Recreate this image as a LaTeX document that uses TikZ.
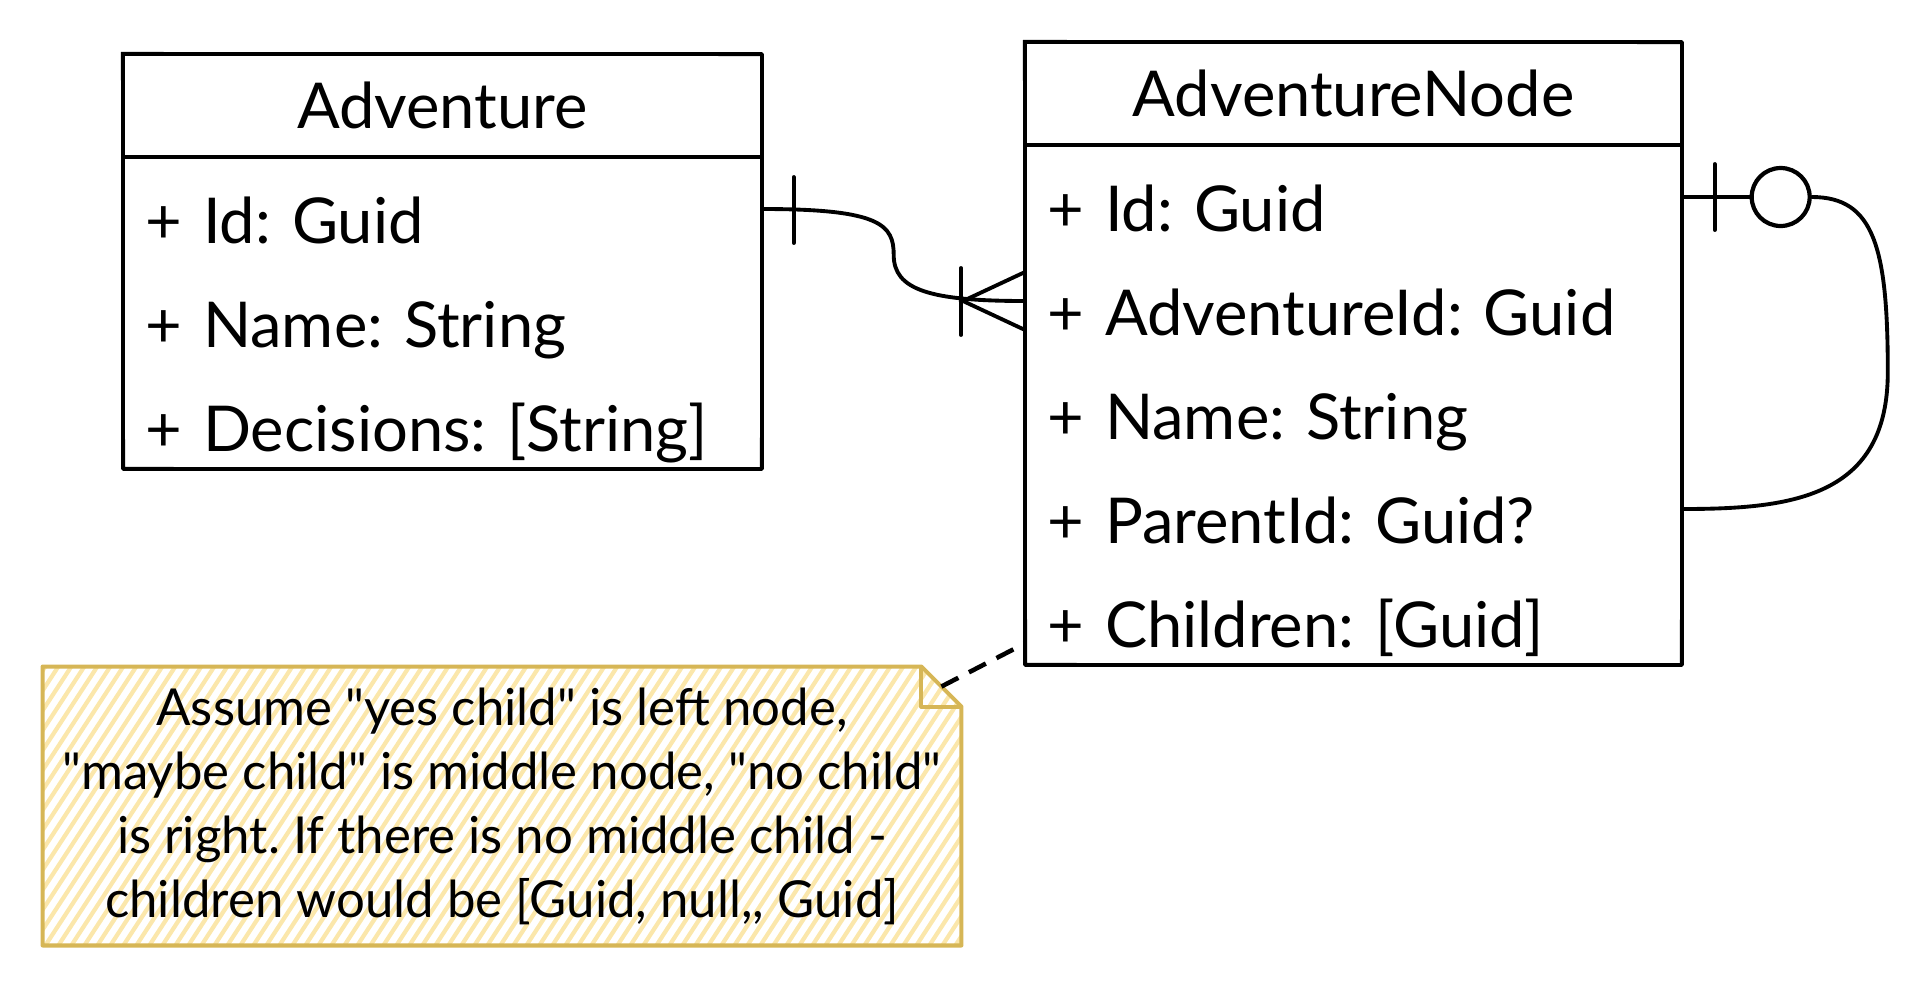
\documentclass[tikz,border=0pt]{standalone}
\usepackage{fontspec}
\setmainfont{Lato}
\usepackage{xcolor}
\definecolor{notefill}{HTML}{FBE7AB}
\definecolor{noteline}{HTML}{D6B656}
\newcommand\qq{\textquotedbl}
\newcommand\ERbox[7]{
  \def\En{#1} \def\Xa{#2} \def\Ya{#3} \def\Xb{#4} \def\Nr{#5}
  \pgfmathsetmacro{\Yh}{\Ya+103}
  \pgfmathsetmacro{\Yb}{\Yh+104*\Nr}
  \pgfmathsetmacro{\Tw}{0.02*(\Xb-\Xa)-0.88}
  \draw[box line] (\Xa,\Ya) rectangle (\Xb,\Yb);
  \draw[box line,line width=0.8pt] (\Xa-1.5,\Ya-1.5) -- (\Xb+1,\Ya+1.5)
    -- (\Xb-1.5,\Yb+1) -- (\Xa+1.5,\Yb-1.5) -- cycle;
  \draw[box line] (\Xa,\Yh) -- (\Xb,\Yh);
  \node[box title] (\En) at ({(\Xa+\Xb)/2},{(\Ya+\Yh)/2}) {#6};
  \foreach \txt [count=\i] in {#7}
  {
    \node[box row=\Tw cm] (\En-\i) at (\Xa,{\Yh+52+104*(\i-1)}) {\txt};
  }
}

\begin{document}
\frenchspacing
\begin{tikzpicture}[x=0.02cm, y=-0.02cm,
  box line/.style={line width=2.1pt, line join=round},
  link/.style={line width=2.2pt, line cap=round},
  box title/.style={font=\fontsize{36}{42}\selectfont},
  box row/.style={anchor=west, align=left, text width=#1, inner xsep=0.44cm,
    inner ysep=0pt, minimum height=2.08cm, text height=43pt, text depth=3.5pt,
    font=\fontsize{36}{42}\selectfont},
  note text/.style={align=center, inner sep=0pt, outer sep=0pt,
    minimum width=18.38cm, minimum height=5.58cm,
    font=\fontsize{29}{36.4}\selectfont},
  note line/.style={noteline, line width=2.3pt, line join=round},
  hatch/.style={notefill, line width=2.4pt}]
\useasboundingbox (0,0) rectangle (1928,988);

\ERbox{adv}{123}{54}{762}{3}{Adventure}
  {+ Id: Guid, + Name: String, + Decisions: [String]}
\ERbox{an}{1025}{42}{1682}{5}{AdventureNode}
  {+ Id: Guid, + AdventureId: Guid, + Name: String, + ParentId: Guid?, + Children: [Guid]}

% note
\begin{scope}
  \clip (43,667) -- (922,667) -- (962,707) -- (962,946) -- (43,946) -- cycle;
  \foreach \x in {-150,-137,...,962}
    \draw[hatch] (\x,946) -- ++(182,-279);
\end{scope}
\node[note text] (note) at (502,806) {Assume \qq yes child\qq{} is left node,\\
  \qq maybe child\qq{} is middle node, \qq no child\qq\\
  is right. If there is no middle child -\\
  children would be [Guid, null,{}, Guid]};
\draw[note line] (note.north west) -- ([xshift=-0.8cm]note.north east)
  -- ([yshift=-0.8cm]note.north east) -- (note.south east)
  -- (note.south west) -- cycle;
\draw[note line] ([xshift=-0.8cm]note.north east) |- ([yshift=-0.8cm]note.north east);
\draw[link, line width=2.6pt, line cap=butt, dash pattern=on 0.38cm off 0.24cm]
  ([xshift=-0.4cm,yshift=-0.4cm]note.north east) -- ([yshift=0.44cm]an-5.south west);

% one to many
\draw[link] (adv-1.east) .. controls +(118,0) and +(0,-30) .. ++(131,46)
  .. controls +(0,35) and +(-95,0) .. (an-2.west);
\draw[link] (adv-1.east) ++(31,-32) -- ++(0,66);
\coordinate (crow) at ([xshift=-1.24cm]an-2.west);
\draw[link] ([yshift=0.58cm]an-2.west) -- (crow) -- ([yshift=-0.58cm]an-2.west);
\draw[link] (crow) ++(-2,-33) -- ++(0,67);

% parent
\node[draw, circle, line width=2.4pt, inner sep=0pt, minimum size=1.16cm]
  (opt) at ([xshift=1.96cm]an-1.east) {};
\draw[link] (an-1.east) -- (opt.west);
\draw[link] (an-1.east) ++(32,-33) -- ++(0,66);
\draw[link] (opt.east) .. controls +(62,0) and +(0,-125) .. ++(76,175)
  .. controls +(0,125) and +(110,0) .. (an-4.east);
\end{tikzpicture}
\end{document}
